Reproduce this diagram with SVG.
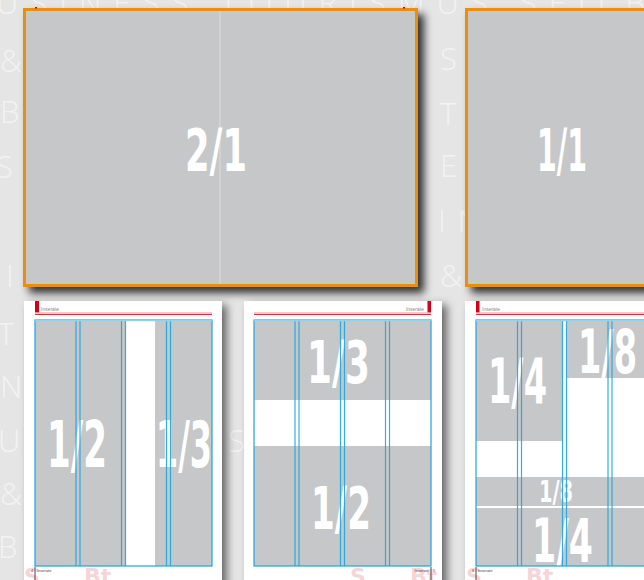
<svg xmlns="http://www.w3.org/2000/svg" width="644" height="580" viewBox="0 0 644 580">
<defs>
<filter id="sh" x="-10%" y="-10%" width="130%" height="130%">
<feDropShadow dx="6" dy="6" stdDeviation="4" flood-color="#000" flood-opacity="0.8"/>
</filter>
<filter id="sh2" x="-10%" y="-10%" width="130%" height="130%">
<feDropShadow dx="5" dy="4" stdDeviation="4" flood-color="#000" flood-opacity="0.55"/>
</filter>
<style>
.bg{font-family:"Open Sans","DejaVu Sans",sans-serif;font-size:31px;font-weight:300;fill:#ffffff;fill-opacity:0.55;letter-spacing:12px}
.panel{fill:#c6c7c9;stroke:#e8900e;stroke-width:3}
.gray{fill:#c6c7c9}
.big{font-family:"DejaVu Sans",sans-serif;font-weight:bold;fill:#ffffff}
.blue{fill:none;stroke:#1ea4de;stroke-width:1.2}
.bline{stroke:#1ea4de;stroke-width:1.2;stroke-opacity:0.9}
.red{stroke:#e0303a;stroke-width:1.3}
.tab{fill:#d0021b}
.small{font-family:"Liberation Sans",sans-serif;font-size:5px;fill:#8a8a8a}
.foot{font-family:"Liberation Sans",sans-serif;font-size:4px;fill:#444}
.logo{font-family:"DejaVu Sans",sans-serif;font-weight:bold;font-size:22px;fill:#f2b8bc;fill-opacity:0.6}
</style>
</defs>
<rect x="0" y="0" width="644" height="580" fill="#e5e5e5"/>
<g id="background-letters">
<text class="bg" x="-4" y="14">USINESS TOURISMUS SEILB</text>
<text class="bg" x="0" y="72">&amp;</text>
<text class="bg" x="440" y="70">S</text>
<text class="bg" x="0" y="123">BA</text>
<text class="bg" x="440" y="125">T</text>
<text class="bg" x="-4" y="178">S</text>
<text class="bg" x="440" y="177">E</text>
<text class="bg" x="438" y="232">IN</text>
<text class="bg" x="6" y="287">I</text>
<text class="bg" x="440" y="287">&amp;</text>
<text class="bg" x="-2" y="345">TO</text>
<text class="bg" x="0" y="398">NE</text>
<text class="bg" x="-2" y="452">US</text>
<text class="bg" x="228" y="452">S</text>
<text class="bg" x="0" y="505">&amp;</text>
<text class="bg" x="-2" y="558">BA</text>
</g>
<g id="spread-2-1">
<rect class="panel" x="24.5" y="9.5" width="392" height="276" filter="url(#sh)"/>
<line x1="220" y1="11" x2="220" y2="284" stroke="#dcdcde" stroke-width="1"/>
<rect x="35" y="7" width="2" height="1.5" fill="#d0021b"/>
<rect x="403" y="7" width="2" height="1.5" fill="#d0021b"/>
<text class="big" x="185" y="171" font-size="58" textLength="62" lengthAdjust="spacingAndGlyphs">2/1</text>
</g>
<g id="page-1-1">
<rect class="panel" x="466.5" y="9.5" width="190" height="276" filter="url(#sh)"/>
<text class="big" x="537" y="171" font-size="58" textLength="50" lengthAdjust="spacingAndGlyphs">1/1</text>
</g>
<g id="page-a">
<rect x="24" y="301" width="198" height="290" fill="#ffffff" filter="url(#sh2)"/>
<rect class="tab" x="35" y="301" width="4" height="12"/>
<text class="small" x="41" y="311">Inserate</text>
<line x1="35" y1="312.6" x2="212" y2="312.6" stroke="#f4b4b8" stroke-width="0.8"/>
<line class="red" x1="35" y1="314.3" x2="212" y2="314.3"/>
<rect class="gray" x="35" y="320" width="177" height="246"/>
<rect x="125.5" y="320" width="29.5" height="246" fill="#ffffff"/>
<text class="big" x="47" y="467" font-size="64" textLength="60" lengthAdjust="spacingAndGlyphs">1/2</text>
<text class="big" x="156" y="467" font-size="64" textLength="56" lengthAdjust="spacingAndGlyphs">1/3</text>
<line class="bline" x1="76" y1="320" x2="76" y2="566"/>
<line class="bline" x1="80" y1="320" x2="80" y2="566"/>
<line class="bline" x1="121.5" y1="320" x2="121.5" y2="566"/>
<line class="bline" x1="125.5" y1="320" x2="125.5" y2="566"/>
<line class="bline" x1="166.5" y1="320" x2="166.5" y2="566"/>
<line class="bline" x1="170.5" y1="320" x2="170.5" y2="566"/>
<rect class="blue" x="35" y="320" width="177" height="246"/>
<line x1="35" y1="320.5" x2="212" y2="320.5" stroke="#8fd3f0" stroke-width="1.5"/>
<text class="logo" x="24" y="584">S</text>
<text class="logo" x="84" y="584">Bt</text>
<text class="foot" x="31" y="572">4</text>
<line x1="35" y1="567" x2="35" y2="580" stroke="#222" stroke-width="0.8"/>
<text class="foot" x="37" y="572">Inserate</text>
</g>
<g id="page-b">
<rect x="244" y="301" width="198" height="290" fill="#ffffff" filter="url(#sh2)"/>
<rect class="tab" x="427.5" y="301" width="3.5" height="12"/>
<text class="small" x="424" y="311" text-anchor="end">Inserate</text>
<line x1="254" y1="312.6" x2="431" y2="312.6" stroke="#f4b4b8" stroke-width="0.8"/>
<line class="red" x1="254" y1="314.3" x2="431" y2="314.3"/>
<rect class="gray" x="254" y="320" width="177" height="80"/>
<rect class="gray" x="254" y="446" width="177" height="120"/>
<text class="big" x="307" y="383" font-size="59" textLength="63" lengthAdjust="spacingAndGlyphs">1/3</text>
<text class="big" x="311" y="529" font-size="58" textLength="60" lengthAdjust="spacingAndGlyphs">1/2</text>
<line class="bline" x1="295" y1="320" x2="295" y2="566"/>
<line class="bline" x1="299" y1="320" x2="299" y2="566"/>
<line class="bline" x1="340.5" y1="320" x2="340.5" y2="566"/>
<line class="bline" x1="344.5" y1="320" x2="344.5" y2="566"/>
<line class="bline" x1="385.5" y1="320" x2="385.5" y2="566"/>
<line class="bline" x1="389.5" y1="320" x2="389.5" y2="566"/>
<rect class="blue" x="254" y="320" width="177" height="246"/>
<line x1="254" y1="320.5" x2="431" y2="320.5" stroke="#8fd3f0" stroke-width="1.5"/>
<text class="logo" x="350" y="584">S</text>
<text class="logo" x="410" y="584">Bt</text>
<text class="foot" x="429" y="572" text-anchor="end">Inserate</text>
<line x1="431" y1="567" x2="431" y2="580" stroke="#222" stroke-width="0.8"/>
<text class="foot" x="433" y="572">5</text>
</g>
<g id="page-c">
<rect x="465" y="301" width="200" height="290" fill="#ffffff" filter="url(#sh2)"/>
<rect class="tab" x="476" y="301" width="3.5" height="12"/>
<text class="small" x="482" y="311">Inserate</text>
<line x1="476" y1="312.6" x2="650" y2="312.6" stroke="#f4b4b8" stroke-width="0.8"/>
<line class="red" x1="476" y1="314.3" x2="650" y2="314.3"/>
<rect class="gray" x="476" y="320" width="86.5" height="121"/>
<rect class="gray" x="566.5" y="320" width="90" height="58"/>
<rect class="gray" x="476" y="477" width="180" height="29"/>
<rect class="gray" x="476" y="508" width="180" height="58"/>
<text class="big" x="488" y="403" font-size="62" textLength="59" lengthAdjust="spacingAndGlyphs">1/4</text>
<text class="big" x="578" y="373" font-size="60" textLength="59" lengthAdjust="spacingAndGlyphs">1/8</text>
<text class="big" x="539" y="502" font-size="30" textLength="34" lengthAdjust="spacingAndGlyphs">1/8</text>
<text class="big" x="532" y="562" font-size="60" textLength="61" lengthAdjust="spacingAndGlyphs">1/4</text>
<line class="bline" x1="517.5" y1="320" x2="517.5" y2="566"/>
<line class="bline" x1="521.5" y1="320" x2="521.5" y2="566"/>
<line class="bline" x1="562.5" y1="320" x2="562.5" y2="566"/>
<line class="bline" x1="566.5" y1="320" x2="566.5" y2="566"/>
<line class="bline" x1="608" y1="320" x2="608" y2="566"/>
<line class="bline" x1="612" y1="320" x2="612" y2="566"/>
<rect class="blue" x="476" y="320" width="180" height="246"/>
<line x1="476" y1="320.5" x2="650" y2="320.5" stroke="#8fd3f0" stroke-width="1.5"/>
<text class="logo" x="466" y="584">S</text>
<text class="logo" x="526" y="584">Bt</text>
<text class="foot" x="472" y="572">6</text>
<line x1="476" y1="567" x2="476" y2="580" stroke="#222" stroke-width="0.8"/>
<text class="foot" x="478" y="572">Inserate</text>
</g>
</svg>
